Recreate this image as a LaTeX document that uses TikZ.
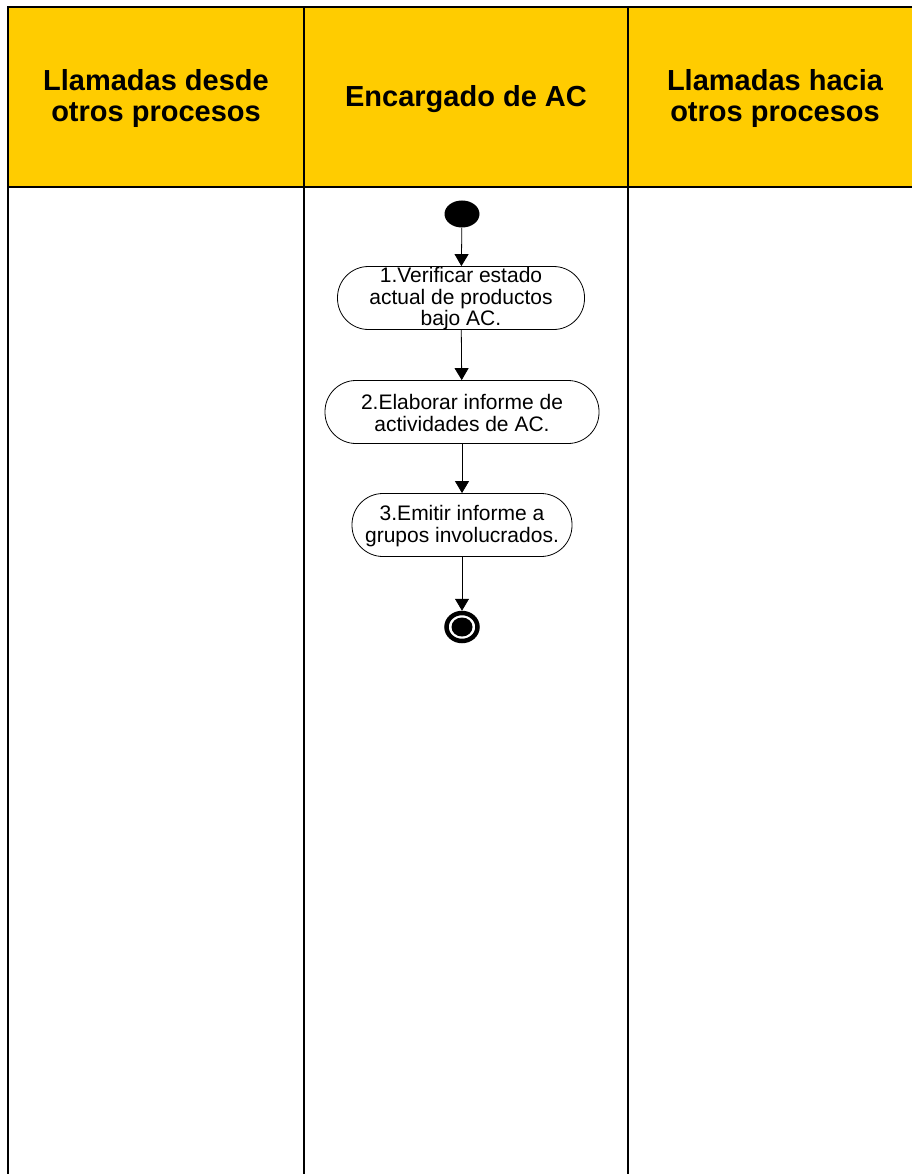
\documentclass[tikz,border=0pt]{standalone}
\usepackage{fontspec}
\setmainfont{Liberation Sans}
\usetikzlibrary{arrows.meta,shapes.geometric}
\definecolor{lanehead}{HTML}{FFCC00}
\tikzset{
  lane/.style={line width=1.2pt, draw=black},
  headtext/.style={font=\fontsize{29}{31}\selectfont\bfseries, align=center, text=black},
  activity/.style={draw=black, line width=0.8pt, fill=white, rounded corners=31pt,
    minimum height=63pt, inner sep=0pt,
    label={[align=center, yshift=-1pt, font=\fontsize{21}{21.5}\selectfont]center:#1}},
  startnode/.style={ellipse, fill=black, minimum width=35pt, minimum height=27pt, inner sep=0pt},
  endnode/.style={ellipse, draw=black, line width=4.5pt, fill=white, minimum width=31pt,
    minimum height=28pt, inner sep=0pt,
    path picture={\fill[black] (path picture bounding box.center) ellipse (10.5pt and 9.5pt);}},
  flow/.style={draw=black, line width=0.8pt, -{Triangle[length=12pt,width=14pt]}}
}
\begin{document}
\begin{tikzpicture}[x=1pt,y=-1pt]
\useasboundingbox (0,0) rectangle (912,1174);
% header band of the swimlanes
\fill[lanehead] (8,7) rectangle (912,187);
\draw[lane] (912,7) -- (8,7) -- (8,1174);
\draw[lane] (8,187) -- (912,187);
\draw[lane] (304,7) -- (304,1174);
\draw[lane] (628,7) -- (628,1174);
% lane titles
\node[headtext] (h1) at (156,99) {Llamadas desde\\otros procesos};
\node[headtext] (h2) at (466,99) {Encargado de AC};
\node[headtext] (h3) at (775,99) {Llamadas hacia\\otros procesos};
% activity flow
\node[startnode] (start) at (462,214) {};
\node[activity={1.Verificar estado\\actual de productos\\bajo AC.}, minimum width=247pt] (a1) at (461,298) {};
\node[activity={2.Elaborar informe de\\actividades de AC.}, minimum width=274pt] (a2) at (462,412) {};
\node[activity={3.Emitir informe a\\grupos involucrados.}, minimum width=220pt] (a3) at (462,525) {};
\node[endnode] (stop) at (462,627) {};
\draw[flow] (start) -- (a1);
\draw[flow] (a1) -- (a2);
\draw[flow] (a2) -- (a3);
\draw[flow] (a3) -- (stop);
\end{tikzpicture}
\end{document}
